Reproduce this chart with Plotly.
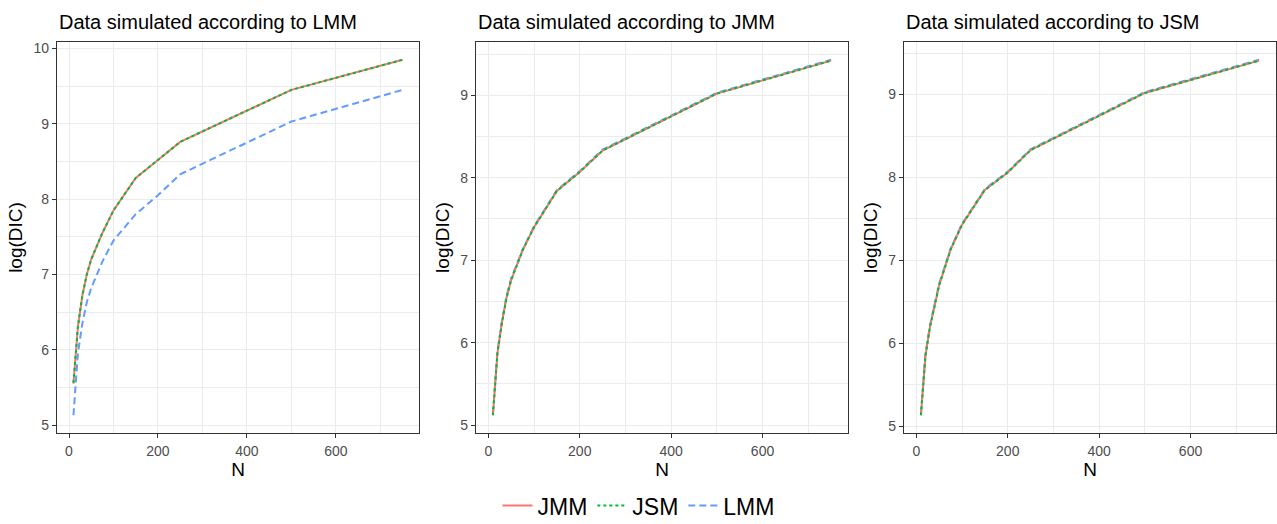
import plotly.graph_objects as go

# ---------------- data ----------------
N = [10, 20, 30, 40, 50, 75, 100, 150, 200, 250, 500, 750]

panel_titles = ["Data simulated according to LMM",
                "Data simulated according to JMM",
                "Data simulated according to JSM"]

# Panel 1: data simulated according to LMM
lmm_JMM = [5.55, 6.30, 6.72, 7.00, 7.20, 7.55, 7.85, 8.28, 8.52, 8.76, 9.45, 9.85]
lmm_JSM = [5.56, 6.31, 6.72, 7.00, 7.20, 7.55, 7.85, 8.28, 8.52, 8.76, 9.45, 9.85]
lmm_LMM = [5.13, 5.95, 6.35, 6.63, 6.82, 7.17, 7.45, 7.80, 8.05, 8.33, 9.03, 9.45]

# Panel 2: data simulated according to JMM
jmm_JMM = [5.12, 5.88, 6.25, 6.55, 6.76, 7.12, 7.40, 7.84, 8.07, 8.33, 9.02, 9.42]
jmm_JSM = [5.12, 5.88, 6.25, 6.55, 6.76, 7.12, 7.40, 7.84, 8.07, 8.33, 9.02, 9.42]
jmm_LMM = [5.13, 5.90, 6.27, 6.57, 6.78, 7.13, 7.41, 7.85, 8.08, 8.34, 9.03, 9.43]

# Panel 3: data simulated according to JSM
jsm_JMM = [5.13, 5.85, 6.20, 6.45, 6.70, 7.13, 7.43, 7.85, 8.06, 8.33, 9.02, 9.41]
jsm_JSM = [5.13, 5.85, 6.20, 6.45, 6.70, 7.13, 7.43, 7.85, 8.06, 8.33, 9.02, 9.41]
jsm_LMM = [5.14, 5.87, 6.22, 6.47, 6.72, 7.14, 7.44, 7.86, 8.07, 8.34, 9.03, 9.42]

panels = [
    {"JMM": lmm_JMM, "JSM": lmm_JSM, "LMM": lmm_LMM},
    {"JMM": jmm_JMM, "JSM": jmm_JSM, "LMM": jmm_LMM},
    {"JMM": jsm_JMM, "JSM": jsm_JSM, "LMM": jsm_LMM},
]

# ---------------- styles ----------------
W, H = 1277, 524
FONT = "Liberation Sans, Arial, sans-serif"
styles = {
    "JMM": dict(color="#F8766D", dash="solid", rank=1),
    "JSM": dict(color="#00BA38", dash="3px,3px", rank=2),
    "LMM": dict(color="#619CFF", dash="7px,4px", rank=3),
}
draw_order = ["LMM", "JMM", "JSM"]

x_dom_px = [(57, 419), (476, 848), (904, 1276)]
y_dom = [1 - 433 / H, 1 - 42 / H]

fig = go.Figure()
layout = dict(
    width=W, height=H,
    margin=dict(l=0, r=0, t=0, b=0, autoexpand=False),
    paper_bgcolor="white", plot_bgcolor="white",
    font=dict(family=FONT, color="black"),
    showlegend=True,
    legend=dict(orientation="h", x=0.5, xanchor="center", y=-0.006, yanchor="bottom",
                font=dict(size=23, family=FONT, color="black"),
                traceorder="normal", itemwidth=30, bgcolor="rgba(0,0,0,0)"),
    annotations=[],
)

xmin, xmax = min(N), max(N)
xpad = 0.05 * (xmax - xmin)

for i, pdata in enumerate(panels):
    k = "" if i == 0 else str(i + 1)
    for s in draw_order:
        st = styles[s]
        fig.add_trace(go.Scatter(
            x=N, y=pdata[s], mode="lines", name=s,
            line=dict(color=st["color"], dash=st["dash"], width=2),
            xaxis="x" + k, yaxis="y" + k,
            showlegend=(i == 0), legendrank=st["rank"],
        ))
    allv = [v for s in pdata for v in pdata[s]]
    ymin, ymax = min(allv), max(allv)
    ypad = 0.05 * (ymax - ymin)
    x0, x1 = x_dom_px[i]
    axcommon = dict(
        showline=True, linecolor="#333333", linewidth=1.1, mirror=True,
        ticks="outside", ticklen=4, tickwidth=1, tickcolor="#333333",
        tickfont=dict(size=14, color="#4D4D4D", family=FONT),
        showgrid=True, gridcolor="#EBEBEB", gridwidth=1.1,
        zeroline=False, automargin=False,
    )
    layout["xaxis" + k] = dict(
        axcommon, domain=[x0 / W, x1 / W], anchor="y" + k,
        range=[xmin - xpad, xmax + xpad], tick0=0, dtick=200,
        ticklabelstandoff=1,
        minor=dict(tick0=0, dtick=100, showgrid=True, gridcolor="#EBEBEB", gridwidth=0.6),
        title=dict(text="N", font=dict(size=19, family=FONT, color="black"), standoff=4),
    )
    layout["yaxis" + k] = dict(
        axcommon, domain=y_dom, anchor="x" + k,
        range=[ymin - ypad, ymax + ypad], tick0=0, dtick=1,
        minor=dict(tick0=0, dtick=0.5, showgrid=True, gridcolor="#EBEBEB", gridwidth=0.6),
        title=dict(text="log(DIC)", font=dict(size=19, family=FONT, color="black"), standoff=5),
    )
    layout["annotations"].append(dict(
        text=panel_titles[i], xref="paper", yref="paper",
        x=x0 / W, xanchor="left", y=1 - 22 / H, yanchor="middle",
        showarrow=False, font=dict(size=20, family=FONT, color="black"),
    ))

fig.update_layout(**layout)
fig.write_html("out.html", config={"displayModeBar": False},
               post_script="document.body.style.margin='0px';document.body.style.overflow='hidden';")
